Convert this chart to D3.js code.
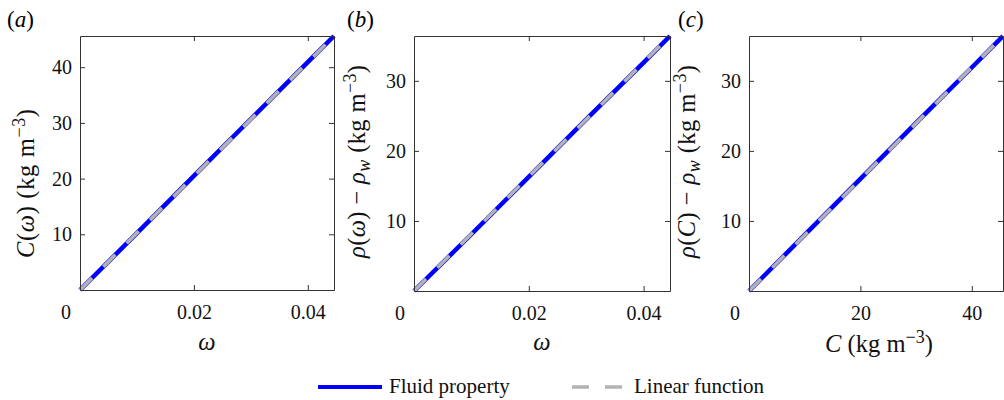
<!DOCTYPE html>
<html>
<head>
<meta charset="utf-8">
<script src="https://cdn.jsdelivr.net/npm/d3@7"></script>
<style>
  body { margin: 0; background: #fff; }
</style>
</head>
<body>
<div id="chart"></div>
<script>
// values
const omega = [0, 0.01, 0.02, 0.03, 0.04, 0.0446];
const concOmega = [0, 10.2, 20.5, 30.7, 40.9, 45.6];      // C(omega), kg m^-3
const rhoOmega = [0, 8.1, 16.3, 24.5, 32.6, 36.4];        // rho(omega) - rho_w
const concC = [0, 10, 20, 30, 40, 45.6];                  // C axis of panel c
const rhoC = [0, 8.0, 16.0, 24.0, 31.9, 36.4];            // rho(C) - rho_w
const linOmegaC = [0, 45.6];                               // linear fits (end points)
const linOmegaRho = [0, 36.4];
const linCRho = [0, 36.4];

const xTicksOmega = [0.02, 0.04];
const xTicksC = [20, 40];
const yTicksA = [10, 20, 30, 40];
const yTicksB = [10, 20, 30];
const panelNames = ["(a)", "(b)", "(c)"];
const legendLabels = ["Fluid property", "Linear function"];

const width = 1004, height = 400;
const FONT = "Liberation Serif";
const LAB = 24.5, SUP = 18;
const svg = d3.select("#chart").append("svg")
  .attr("width", width).attr("height", height)
  .attr("viewBox", [0, 0, width, height])
  .attr("font-family", FONT);

const blue = "#0000ff", gray = "#b3b3b3", axisCol = "#333";

const panels = [
  { name: panelNames[0], nameX: 7, left: 80, right: 334, top: 36, bottom: 290,
    xs: omega, ys: concOmega, linX: [0, omega[omega.length - 1]], linY: linOmegaC,
    xTicks: xTicksOmega, yTicks: yTicksA, xFmt: d3.format(".2f"), ylabGap: 46, ylabLen: 149,
    ylab: "a", xlab: "omega" },
  { name: panelNames[1], nameX: 347, left: 414, right: 670, top: 36, bottom: 291,
    xs: omega, ys: rhoOmega, linX: [0, omega[omega.length - 1]], linY: linOmegaRho,
    xTicks: xTicksOmega, yTicks: yTicksB, xFmt: d3.format(".2f"), ylabGap: 49, ylabLen: 193,
    ylab: "b", xlab: "omega" },
  { name: panelNames[2], nameX: 678, left: 749, right: 1003, top: 36, bottom: 291,
    xs: concC, ys: rhoC, linX: [0, concC[concC.length - 1]], linY: linCRho,
    xTicks: xTicksC, yTicks: yTicksB, xFmt: d3.format("d"), ylabGap: 54, ylabLen: 193,
    ylab: "c", xlab: "C" }
];

panels.forEach((p) => {
  const x = d3.scaleLinear().domain([0, d3.max(p.xs)]).range([p.left, p.right]);
  const y = d3.scaleLinear().domain([0, d3.max(p.ys)]).range([p.bottom, p.top]);
  const g = svg.append("g");

  // panel label
  const pl = svg.append("text").attr("x", p.nameX).attr("y", 27).attr("font-size", 23);
  pl.append("tspan").text("(");
  pl.append("tspan").attr("font-style", "italic").text(p.name[1]);
  pl.append("tspan").text(")");

  // data lines
  const line = d3.line().x(d => x(d[0])).y(d => y(d[1]));
  g.append("path").datum(d3.zip(p.xs, p.ys))
    .attr("d", line).attr("fill", "none")
    .attr("stroke", blue).attr("stroke-width", 4.5);
  g.append("path").datum(d3.zip(p.linX, p.linY))
    .attr("d", line).attr("fill", "none")
    .attr("stroke", gray).attr("stroke-width", 3.5)
    .attr("stroke-dasharray", "17,16");

  // axes: bottom/left with labels, top/right mirrored ticks, all inward
  const fs = 20;
  const bottomAx = g.append("g").attr("transform", `translate(0,${p.bottom})`)
    .call(d3.axisBottom(x).tickValues(p.xTicks).tickFormat(p.xFmt).tickSizeInner(-5).tickSizeOuter(0));
  const topAx = g.append("g").attr("transform", `translate(0,${p.top})`)
    .call(d3.axisTop(x).tickValues(p.xTicks).tickFormat("").tickSizeInner(-5).tickSizeOuter(0));
  const leftAx = g.append("g").attr("transform", `translate(${p.left},0)`)
    .call(d3.axisLeft(y).tickValues(p.yTicks).tickSizeInner(-5).tickSizeOuter(0).tickPadding(8));
  const rightAx = g.append("g").attr("transform", `translate(${p.right},0)`)
    .call(d3.axisRight(y).tickValues(p.yTicks).tickFormat("").tickSizeInner(-5).tickSizeOuter(0));
  [bottomAx, topAx, leftAx, rightAx].forEach(a => {
    a.attr("font-family", FONT).attr("font-size", fs);
    a.select(".domain").attr("stroke", axisCol);
    a.selectAll(".tick line").attr("stroke", axisCol);
    a.selectAll("text").attr("fill", "#111");
  });
  bottomAx.selectAll("text").attr("dy", null).attr("y", 29);

  // corner zero
  g.append("text").attr("x", x(0) - 14).attr("y", p.bottom + 29)
    .attr("text-anchor", "middle").attr("font-size", fs).attr("fill", "#111").text(0);

  // y label (starts near the bottom, reads upward)
  const yl = g.append("text")
    .attr("transform", `translate(${p.left - p.ylabGap},258) rotate(-90)`)
    .attr("text-anchor", "start").attr("font-size", LAB).attr("fill", "#111")
    .attr("textLength", p.ylabLen).attr("lengthAdjust", "spacing");
  if (p.ylab === "a") {
    yl.append("tspan").attr("font-style", "italic").text("C");
    yl.append("tspan").text("(");
    yl.append("tspan").attr("font-style", "italic").text("ω");
    yl.append("tspan").text(") ");
  } else {
    yl.append("tspan").attr("font-style", "italic").text("ρ");
    yl.append("tspan").text("(");
    yl.append("tspan").attr("font-style", "italic").text(p.ylab === "b" ? "ω" : "C");
    yl.append("tspan").text(") − ");
    yl.append("tspan").attr("font-style", "italic").text("ρ");
    yl.append("tspan").attr("font-style", "italic").attr("font-size", SUP).attr("dy", 5).text("w");
    yl.append("tspan").attr("dy", -5).text(" ");
  }
  yl.append("tspan").text("(kg m");
  yl.append("tspan").attr("font-size", SUP).attr("dy", -9).text("−3");
  yl.append("tspan").attr("dy", 9).text(")");

  // x label
  if (p.xlab === "omega") {
    g.append("text")
      .attr("x", (p.left + p.right) / 2).attr("y", 350)
      .attr("text-anchor", "middle").attr("font-size", LAB).attr("fill", "#111")
      .attr("font-style", "italic").text("ω");
  } else {
    const xl = g.append("text")
      .attr("x", 825).attr("y", 352)
      .attr("text-anchor", "start").attr("font-size", LAB).attr("fill", "#111")
      .attr("textLength", 108).attr("lengthAdjust", "spacing");
    xl.append("tspan").attr("font-style", "italic").text("C");
    xl.append("tspan").text(" (kg m");
    xl.append("tspan").attr("font-size", SUP).attr("dy", -9).text("−3");
    xl.append("tspan").attr("dy", 9).text(")");
  }
});

// legend
const leg = svg.append("g").attr("font-size", 21).attr("fill", "#111");
leg.append("line").attr("x1", 318).attr("x2", 382).attr("y1", 387).attr("y2", 387)
  .attr("stroke", blue).attr("stroke-width", 4);
leg.append("text").attr("x", 389).attr("y", 393).text(legendLabels[0]);
leg.append("line").attr("x1", 572).attr("x2", 622).attr("y1", 387).attr("y2", 387)
  .attr("stroke", gray).attr("stroke-width", 3.5).attr("stroke-dasharray", "17,16");
leg.append("text").attr("x", 634).attr("y", 393).text(legendLabels[1]);

svg.selectAll("text").style("font-family", FONT);
</script>
</body>
</html>
